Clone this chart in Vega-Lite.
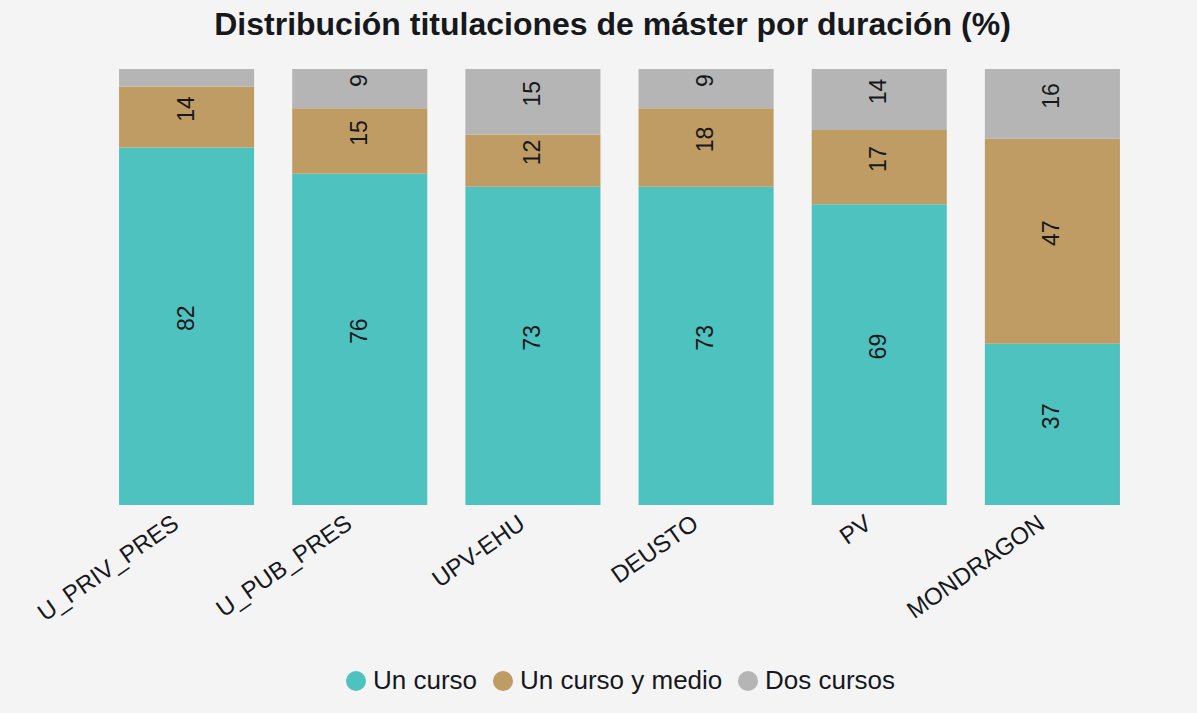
{
  "$schema": "https://vega.github.io/schema/vega-lite/v6.json",
  "width": 1039,
  "height": 436,
  "autosize": {"type": "none"},
  "padding": {"left": 100, "top": 69, "right": 58, "bottom": 208},
  "background": "#f4f4f4",
  "title": {
    "text": "Distribución titulaciones de máster por duración (%)",
    "font": "Liberation Sans",
    "fontSize": 32,
    "fontWeight": "bold",
    "color": "#16181c",
    "anchor": "middle",
    "baseline": "alphabetic",
    "offset": 2,
    "dx": -7
  },
  "data": {
    "values": [
      {"universidad": "U_PRIV_PRES", "duracion": "Un curso", "orden": 1, "pct": 82},
      {"universidad": "U_PRIV_PRES", "duracion": "Un curso y medio", "orden": 2, "pct": 14},
      {"universidad": "U_PRIV_PRES", "duracion": "Dos cursos", "orden": 3, "pct": 4},
      {"universidad": "U_PUB_PRES", "duracion": "Un curso", "orden": 1, "pct": 76},
      {"universidad": "U_PUB_PRES", "duracion": "Un curso y medio", "orden": 2, "pct": 15},
      {"universidad": "U_PUB_PRES", "duracion": "Dos cursos", "orden": 3, "pct": 9},
      {"universidad": "UPV-EHU", "duracion": "Un curso", "orden": 1, "pct": 73},
      {"universidad": "UPV-EHU", "duracion": "Un curso y medio", "orden": 2, "pct": 12},
      {"universidad": "UPV-EHU", "duracion": "Dos cursos", "orden": 3, "pct": 15},
      {"universidad": "DEUSTO", "duracion": "Un curso", "orden": 1, "pct": 73},
      {"universidad": "DEUSTO", "duracion": "Un curso y medio", "orden": 2, "pct": 18},
      {"universidad": "DEUSTO", "duracion": "Dos cursos", "orden": 3, "pct": 9},
      {"universidad": "PV", "duracion": "Un curso", "orden": 1, "pct": 69},
      {"universidad": "PV", "duracion": "Un curso y medio", "orden": 2, "pct": 17},
      {"universidad": "PV", "duracion": "Dos cursos", "orden": 3, "pct": 14},
      {"universidad": "MONDRAGON", "duracion": "Un curso", "orden": 1, "pct": 37},
      {"universidad": "MONDRAGON", "duracion": "Un curso y medio", "orden": 2, "pct": 47},
      {"universidad": "MONDRAGON", "duracion": "Dos cursos", "orden": 3, "pct": 16}
    ]
  },
  "encoding": {
    "x": {
      "field": "universidad",
      "type": "nominal",
      "sort": ["U_PRIV_PRES", "U_PUB_PRES", "UPV-EHU", "DEUSTO", "PV", "MONDRAGON"],
      "scale": {"paddingInner": 0.22, "paddingOuter": 0.11},
      "axis": {
        "title": null,
        "domain": false,
        "ticks": false,
        "grid": false,
        "labelAngle": -35,
        "labelFont": "Liberation Sans",
        "labelFontSize": 24,
        "labelColor": "#16181c",
        "labelPadding": 6,
        "labelOffset": -17
      }
    },
    "y": {
      "field": "pct",
      "type": "quantitative",
      "stack": "zero",
      "scale": {"domain": [0, 100], "nice": false},
      "axis": null
    },
    "order": {"field": "orden", "type": "quantitative", "sort": "ascending"}
  },
  "layer": [
    {
      "mark": {"type": "bar"},
      "encoding": {
        "color": {
          "field": "duracion",
          "type": "nominal",
          "sort": ["Un curso", "Un curso y medio", "Dos cursos"],
          "scale": {
            "domain": ["Un curso", "Un curso y medio", "Dos cursos"],
            "range": ["#4ec2bf", "#bf9c63", "#b5b5b5"]
          },
          "legend": {
            "title": null,
            "orient": "bottom",
            "direction": "horizontal",
            "symbolType": "circle",
            "symbolSize": 400,
            "symbolStrokeWidth": 0,
            "symbolOpacity": 1,
            "labelFont": "Liberation Sans",
            "labelFontSize": 26,
            "labelLimit": 500,
            "labelColor": "#16181c",
            "labelOffset": 4,
            "columnPadding": 12,
            "offset": 42
          }
        }
      }
    },
    {
      "transform": [{"filter": "datum.pct >= 5"}],
      "mark": {
        "type": "text",
        "angle": 270,
        "align": "center",
        "baseline": "middle",
        "dx": 8,
        "font": "Liberation Sans",
        "fontSize": 23,
        "color": "#16181c"
      },
      "encoding": {
        "y": {"field": "pct", "type": "quantitative", "stack": "zero", "bandPosition": 0.5},
        "text": {"field": "pct", "type": "quantitative"}
      }
    }
  ],
  "config": {
    "view": {"stroke": null},
    "legend": {"layout": {"bottom": {"anchor": "middle"}}}
  }
}
